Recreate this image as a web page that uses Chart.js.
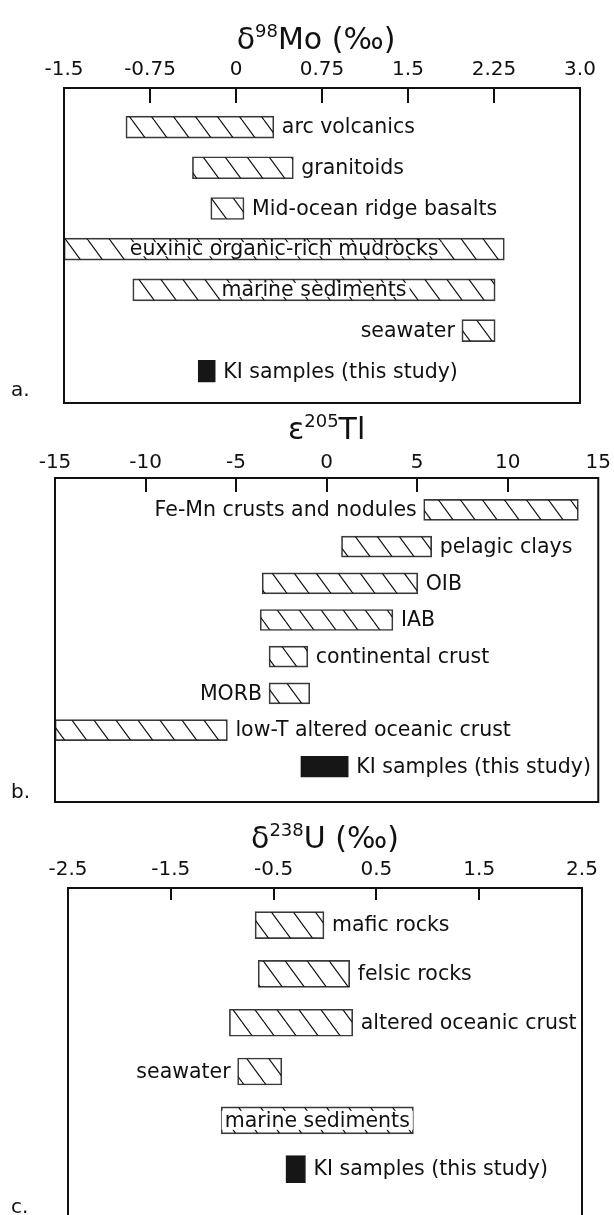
<!DOCTYPE html>
<html>
<head>
<meta charset="utf-8">
<script src="https://cdn.jsdelivr.net/npm/chart.js@4.4.1/dist/chart.umd.min.js"></script>
<style>
  html, body { margin: 0; padding: 0; background: #fff; overflow: hidden; }
  .panel { position: absolute; left: 0; width: 614px; }
  #wrapMo { top: 0; height: 412px; }
  #wrapTl { top: 412px; height: 400px; }
  #wrapU  { top: 812px; height: 410px; }
</style>
</head>
<body>
<div class="panel" id="wrapMo"><canvas id="moChart"></canvas></div>
<div class="panel" id="wrapTl"><canvas id="tlChart"></canvas></div>
<div class="panel" id="wrapU"><canvas id="uChart"></canvas></div>
<script>
/* ============================================================
   Isotope range comparison – Mo, Tl, U
   - floating horizontal bars, hatched ranges
   - KI samples drawn solid
   ============================================================ */

// ---- a. delta98Mo ----
const moLabels = ['arc volcanics', 'granitoids', 'Mid-ocean ridge basalts',
    'euxinic organic-rich mudrocks', 'marine sediments', 'seawater', 'KI samples (this study)'];
const moMin = [-0.96, -0.38, -0.22, -1.5, -0.90, 1.97, -0.33];
const moMax = [0.33, 0.50, 0.07, 2.34, 2.26, 2.26, -0.18];
const moLabelSide = ['right', 'right', 'right', 'inside', 'inside', 'left', 'right'];
const moTickValues = [-1.5, -0.75, 0, 0.75, 1.5, 2.25, 3.0];
const moTickLabels = ['-1.5', '-0.75', '0', '0.75', '1.5', '2.25', '3.0'];

// ---- b. epsilon205Tl ----
const tlLabels = ['Fe-Mn crusts and nodules', 'pelagic clays', 'OIB', 'IAB',
    'continental crust', 'MORB', 'low-T altered oceanic crust', 'KI samples (this study)'];
const tlMin = [5.36, 0.82, -3.56, -3.67, -3.18, -3.18, -15, -1.43];
const tlMax = [13.9, 5.8, 5.03, 3.66, -1.04, -0.93, -5.48, 1.2];
const tlLabelSide = ['left', 'right', 'right', 'right', 'right', 'left', 'right', 'right'];
const tlTickValues = [-15, -10, -5, 0, 5, 10, 15];
const tlTickLabels = ['-15', '-10', '-5', '0', '5', '10', '15'];

// ---- c. delta238U ----
const uLabels = ['mafic rocks', 'felsic rocks', 'altered oceanic crust', 'seawater',
    'marine sediments', 'KI samples (this study)'];
const uMin = [-0.68, -0.65, -0.93, -0.85, -1.01, -0.38];
const uMax = [-0.01, 0.24, 0.27, -0.42, 0.86, -0.19];
const uLabelSide = ['right', 'right', 'right', 'left', 'inside', 'right'];
const uTickValues = [-2.5, -1.5, -0.5, 0.5, 1.5, 2.5];
const uTickLabels = ['-2.5', '-1.5', '-0.5', '0.5', '1.5', '2.5'];

const FONT = "'DejaVu Sans', Verdana, sans-serif";
const INK = '#111';

Chart.defaults.font.family = FONT;
Chart.defaults.color = INK;

function hatchPattern(ctx) {
    const tile = document.createElement('canvas');
    tile.width = 22;
    tile.height = 30;
    const g = tile.getContext('2d');
    g.strokeStyle = '#111';
    g.lineWidth = 1.2;
    g.beginPath();
    [-22, 0, 22].forEach(o => {
        g.moveTo(o, 0);
        g.lineTo(o + 22, 30);
    });
    g.stroke();
    return ctx.createPattern(tile, 'repeat');
}

// frame box, inward ticks, title with superscript, panel letter
const panelFramePlugin = {
    id: 'panelFrame',
    afterDraw(chart, args, opts) {
        const {
            ctx,
            chartArea: { left, right, top, bottom },
            scales: { x }
        } = chart;

        ctx.save();
        ctx.strokeStyle = INK;
        ctx.lineWidth = 2;
        ctx.strokeRect(left, top, right - left, bottom - top);

        ctx.beginPath();
        x.ticks.forEach(t => {
            if (t.value <= x.min || t.value >= x.max) return;
            const px = Math.round(x.getPixelForValue(t.value));
            ctx.moveTo(px, top);
            ctx.lineTo(px, top + opts.tickLen);
        });
        ctx.stroke();

        // title
        ctx.fillStyle = INK;
        ctx.textBaseline = 'alphabetic';
        ctx.textAlign = 'left';
        const big = `30px ${FONT}`;
        const small = `18px ${FONT}`;
        let total = 0;
        opts.title.forEach(p => {
            ctx.font = p.sup ? small : big;
            total += ctx.measureText(p.text).width;
        });
        let cx = (left + right) / 2 - total / 2 + (opts.titleDx || 0);
        opts.title.forEach(p => {
            ctx.font = p.sup ? small : big;
            ctx.fillText(p.text, cx, p.sup ? opts.titleY - 12 : opts.titleY);
            cx += ctx.measureText(p.text).width;
        });

        // panel letter
        ctx.font = `20px ${FONT}`;
        ctx.textBaseline = 'middle';
        ctx.fillText(opts.letter, 11, opts.letterY);
        ctx.restore();
    }
};

const barLabelsPlugin = {
    id: 'barLabels',
    afterDatasetsDraw(chart, args, opts) {
        const { ctx } = chart;
        const meta = chart.getDatasetMeta(0);

        ctx.save();
        ctx.font = `20.5px ${FONT}`;
        ctx.textBaseline = 'middle';

        meta.data.forEach((bar, i) => {
            const { x, base, y, height } = bar.getProps(['x', 'base', 'y', 'height'], true);
            const l = Math.min(x, base);
            const r = Math.max(x, base);
            const text = opts.labels[i];
            const side = opts.sides[i];
            ctx.fillStyle = INK;

            if (side === 'right') {
                ctx.textAlign = 'left';
                ctx.fillText(text, r + 8, y + 1);
            } else if (side === 'left') {
                ctx.textAlign = 'right';
                ctx.fillText(text, l - 7, y + 1);
            } else {
                const w = ctx.measureText(text).width;
                const c = (l + r) / 2;
                ctx.fillStyle = '#fff';
                ctx.fillRect(c - w / 2 - 3, y - height / 2 + 4, w + 6, height - 8);
                ctx.fillStyle = INK;
                ctx.textAlign = 'center';
                ctx.fillText(text, c, y + 1);
            }
        });

        ctx.restore();
    }
};

function createRangeChart(canvasId, d, p) {
    const canvas = document.getElementById(canvasId);
    const ctx = canvas.getContext('2d');
    const hatch = hatchPattern(ctx);
    const last = d.labels.length - 1;

    return new Chart(ctx, {
        type: 'bar',
        data: {
            datasets: [{
                data: d.labels.map((_, i) => ({ x: [d.min[i], d.max[i]], y: i })),
                backgroundColor: d.labels.map((_, i) => i === last ? '#161616' : hatch),
                borderColor: d.labels.map((_, i) => i === last ? '#161616' : '#3a3a3a'),
                borderWidth: 1,
                borderSkipped: false,
                barThickness: p.barThickness
            }]
        },
        options: {
            indexAxis: 'y',
            responsive: true,
            maintainAspectRatio: false,
            animation: false,
            events: [],
            layout: { padding: p.padding },
            plugins: {
                legend: { display: false },
                tooltip: { enabled: false },
                panelFrame: {
                    title: p.title,
                    titleY: p.titleY,
                    titleDx: p.titleDx,
                    letter: p.letter,
                    letterY: p.letterY,
                    tickLen: p.tickLen
                },
                barLabels: { labels: d.labels, sides: d.sides }
            },
            scales: {
                x: {
                    type: 'linear',
                    position: 'top',
                    min: d.tickValues[0],
                    max: d.tickValues[d.tickValues.length - 1],
                    afterBuildTicks(axis) {
                        axis.ticks = d.tickValues.map(v => ({ value: v }));
                    },
                    afterFit(axis) {
                        axis.height = 34;
                    },
                    grid: { display: false, drawTicks: false },
                    border: { display: false },
                    ticks: {
                        autoSkip: false,
                        maxRotation: 0,
                        padding: p.tickPadding,
                        color: INK,
                        font: { size: 20 },
                        callback: (value, index) => d.tickLabels[index]
                    }
                },
                y: {
                    type: 'linear',
                    display: false,
                    reverse: true,
                    offset: false,
                    min: p.yMin,
                    max: p.yMax
                }
            }
        },
        plugins: [barLabelsPlugin, panelFramePlugin]
    });
}

createRangeChart('moChart',
    { labels: moLabels, min: moMin, max: moMax, sides: moLabelSide,
      tickValues: moTickValues, tickLabels: moTickLabels },
    { padding: { left: 64, right: 34, top: 54, bottom: 9 }, yMin: -0.96, yMax: 6.78,
      barThickness: 22, tickPadding: 6, tickLen: 15,
      title: [{ text: 'δ' }, { text: '98', sup: true }, { text: 'Mo (‰)' }],
      titleY: 49, titleDx: -6, letter: 'a.', letterY: 391 });

createRangeChart('tlChart',
    { labels: tlLabels, min: tlMin, max: tlMax, sides: tlLabelSide,
      tickValues: tlTickValues, tickLabels: tlTickLabels },
    { padding: { left: 55, right: 11, top: 32, bottom: 10 }, yMin: -0.87, yMax: 7.96,
      barThickness: 21, tickPadding: 3, tickLen: 14,
      title: [{ text: 'ε' }, { text: '205', sup: true }, { text: 'Tl' }],
      titleY: 27, titleDx: 0, letter: 'b.', letterY: 381 });

createRangeChart('uChart',
    { labels: uLabels, min: uMin, max: uMax, sides: uLabelSide,
      tickValues: uTickValues, tickLabels: uTickLabels },
    { padding: { left: 68, right: 32, top: 42, bottom: 5 }, yMin: -0.76, yMax: 5.98,
      barThickness: 27, tickPadding: 6, tickLen: 12,
      title: [{ text: 'δ' }, { text: '238', sup: true }, { text: 'U (‰)' }],
      titleY: 36, titleDx: 0, letter: 'c.', letterY: 396 });
</script>
</body>
</html>
